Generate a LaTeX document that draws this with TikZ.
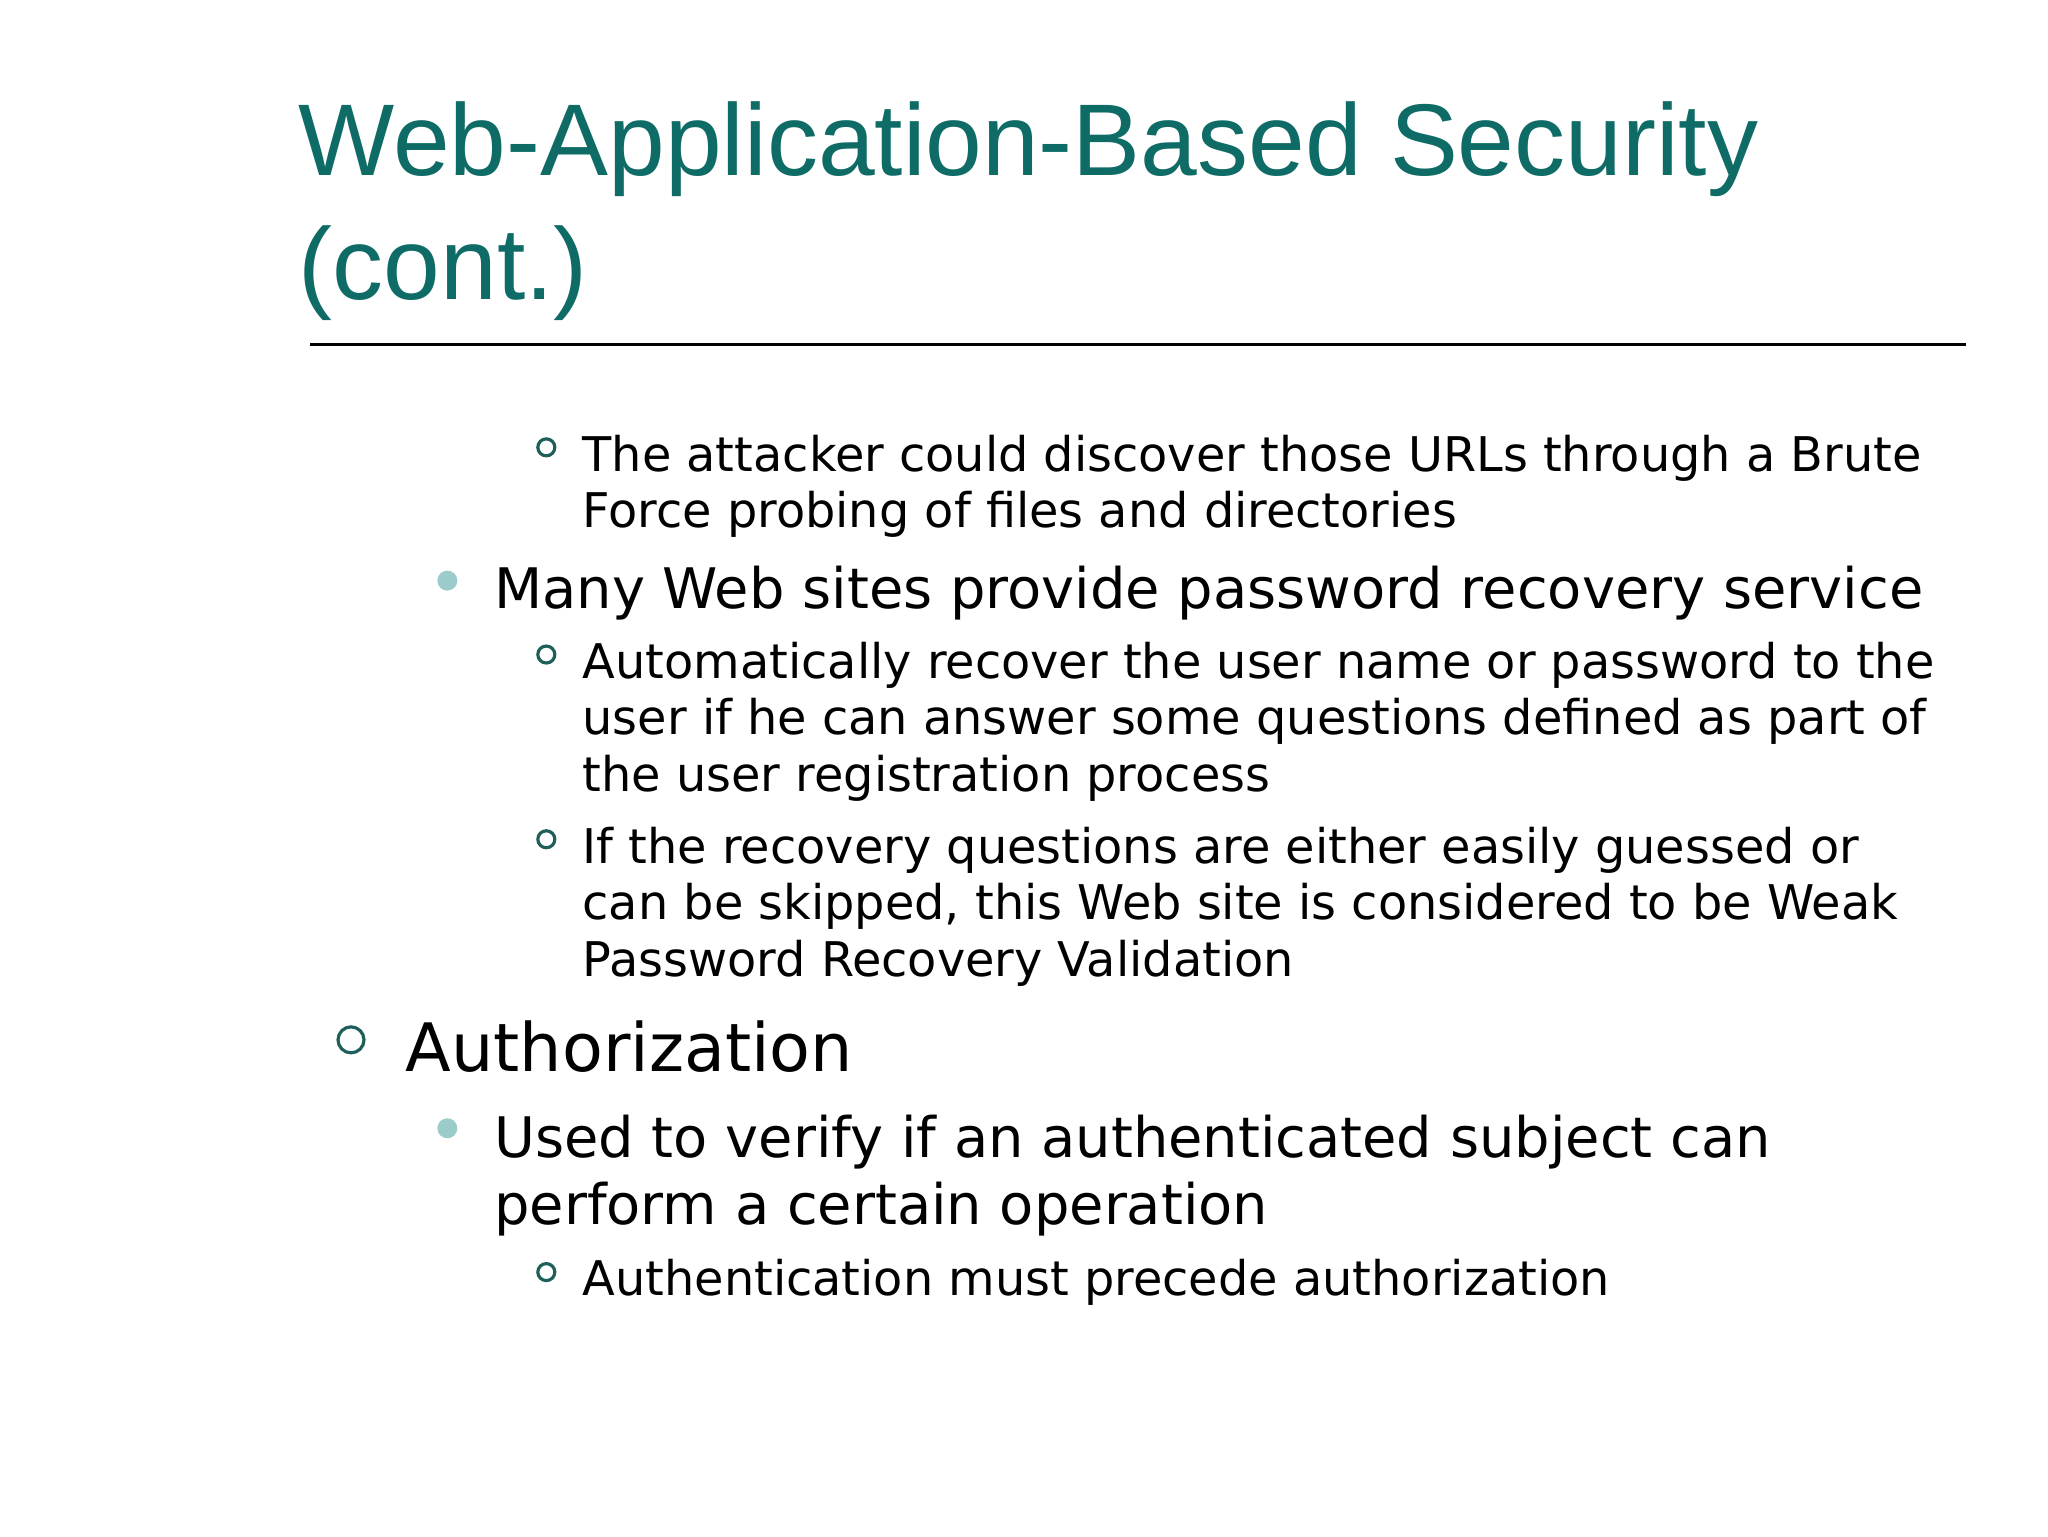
\documentclass[tikz,border=0pt]{standalone}
\usepackage{fontspec}
\setmainfont{DejaVu Sans}
\newfontfamily\titlefont{Liberation Sans}
\usetikzlibrary{positioning}
\definecolor{titleteal}{HTML}{0E6B66}
\definecolor{dotteal}{HTML}{9CCBCB}
\definecolor{ringteal}{HTML}{1F5F5A}
\newcommand{\lines}[1]{\begin{tabular}[t]{@{}l@{}}#1\end{tabular}}
\tikzset{
  ttl/.style={anchor=base west,inner sep=0pt,text=titleteal,font=\titlefont\fontsize{29}{35}\selectfont},
  lvlone/.style={anchor=base west,inner sep=0pt,font=\fontsize{19}{23}\selectfont},
  lvltwo/.style={anchor=base west,inner sep=0pt,font=\fontsize{15.9}{19.1}\selectfont},
  lvlthree/.style={anchor=base west,inner sep=0pt,font=\fontsize{13.6}{16.1}\selectfont},
  dot/.style={circle,fill=dotteal,inner sep=0pt,minimum size=0.2cm},
  ring/.style={circle,draw=ringteal,line width=0.9pt,inner sep=0pt,minimum size=#1}
}
\begin{document}
\begin{tikzpicture}[x=0.0132cm,y=-0.0132cm]
    \useasboundingbox (0,0) rectangle (1552,1164);
    \node[ttl] (t1) at (226,133) {Web-Application-Based Security};
    \node[ttl] (t2) at (226,227) {(cont.)};
    \coordinate (rl) at (235,261);
    \coordinate (rr) at (1490,261);
    \draw[line width=0.9pt] (rl) -- (rr);

    \node[ring=0.17cm] (r1) at (414,339) {};
    \node[lvlthree] (s1) at (441,357) {\lines{The attacker could discover those URLs through a Brute\\Force probing of files and directories}};
    \node[dot] (d1) at (339,440) {};
    \node[lvltwo] (b1) at (374,461) {Many Web sites provide password recovery service};
    \node[ring=0.17cm] (r2) at (414,496) {};
    \node[lvlthree] (s2) at (441,514) {\lines{Automatically recover the user name or password to the\\user if he can answer some questions defined as part of\\the user registration process}};
    \node[ring=0.17cm] (r3) at (414,636) {};
    \node[lvlthree] (s3) at (441,654) {\lines{If the recovery questions are either easily guessed or\\can be skipped, this Web site is considered to be Weak\\Password Recovery Validation}};

    \node[ring=0.26cm] (r4) at (266,788) {};
    \node[lvlone] (a1) at (307,812) {Authorization};
    \node[dot] (d2) at (339,855) {};
    \node[lvltwo] (b2) at (374,877) {\lines{Used to verify if an authenticated subject can\\perform a certain operation}};
    \node[ring=0.17cm] (r5) at (414,964) {};
    \node[lvlthree] (s4) at (441,982) {Authentication must precede authorization};
\end{tikzpicture}
\end{document}
